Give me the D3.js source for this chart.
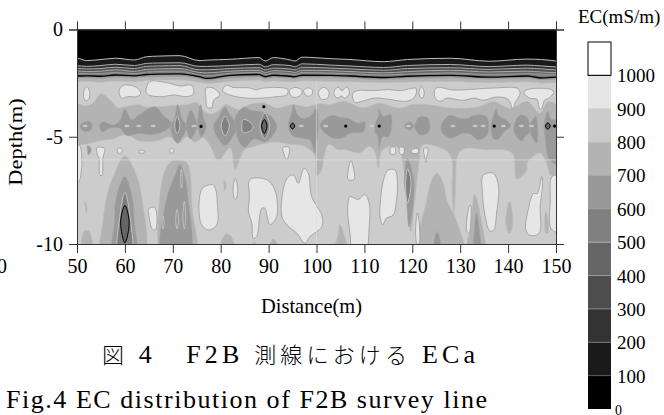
<!DOCTYPE html>
<html>
<head>
<meta charset="utf-8">
<script src="https://cdn.jsdelivr.net/npm/d3@7"></script>
<style>
html, body { margin: 0; padding: 0; background: #fff; }
text { font-family: "Liberation Serif", serif; fill: #000; }
</style>
</head>
<body>
<div id="chart_area"></div>
<script>
var distTicks = [50, 60, 70, 80, 90, 100, 110, 120, 130, 140, 150];
var depthTicks = [0, -5, -10];
var levels = [0, 100, 200, 300, 400, 500, 600, 700, 800, 900, 1000];
var levelColors = ["#000000", "#1a1a1a", "#333333", "#4d4d4d", "#666666", "#808080", "#999999", "#b3b3b3", "#cccccc", "#e6e6e6", "#ffffff"];
var levelLines = ["#555555", "#777777", "#888888", "#999999", "#aaaaaa", "#999999", "#aaaaaa", "#c0c0c0", "#d0d0d0", "#777777"];

// shallow layers: depth of each EC level along the line
var layerDist = [49, 50, 52, 55, 58, 62, 64.5, 67, 71.5, 75.5, 77, 82, 88, 89.3, 91, 94.5, 95.5, 97, 103, 107, 114, 119, 128, 136, 144, 147, 151];
var layer100 = [-1.34, -1.34, -1.45, -1.4, -1.34, -1.42, -1.27, -1.24, -1.22, -1.45, -1.43, -1.39, -1.31, -1.47, -1.31, -1.42, -1.47, -1.29, -1.36, -1.4, -1.5, -1.4, -1.34, -1.48, -1.38, -1.4, -1.5];
var layer200 = [-1.69, -1.69, -1.72, -1.68, -1.62, -1.68, -1.58, -1.56, -1.55, -1.72, -1.72, -1.68, -1.62, -1.74, -1.64, -1.68, -1.74, -1.6, -1.66, -1.7, -1.77, -1.68, -1.63, -1.73, -1.66, -1.7, -1.76];
var layer300 = [-1.81, -1.81, -1.84, -1.82, -1.76, -1.82, -1.72, -1.7, -1.68, -1.88, -1.88, -1.82, -1.78, -1.88, -1.8, -1.84, -1.88, -1.76, -1.8, -1.84, -1.9, -1.82, -1.78, -1.86, -1.8, -1.84, -1.9];
var layer400 = [-1.93, -1.93, -1.96, -1.94, -1.88, -1.95, -1.86, -1.84, -1.82, -2, -2.02, -1.94, -1.9, -2, -1.92, -1.96, -2, -1.9, -1.92, -1.96, -2.02, -1.96, -1.9, -1.98, -1.94, -1.98, -2.02];
var layer500 = [-2.04, -2.04, -2.06, -2.05, -2, -2.06, -1.98, -1.96, -1.94, -2.12, -2.16, -2.04, -2, -2.1, -2.03, -2.06, -2.1, -2.01, -2.03, -2.06, -2.12, -2.08, -2.02, -2.1, -2.06, -2.08, -2.12];
var layer600 = [-2.17, -2.17, -2.16, -2.18, -2.12, -2.16, -2.1, -2.08, -2.07, -2.2, -2.28, -2.14, -2.1, -2.2, -2.13, -2.18, -2.2, -2.13, -2.14, -2.17, -2.24, -2.18, -2.14, -2.22, -2.17, -2.26, -2.2];
var layer700 = [-2.28, -2.28, -2.27, -2.28, -2.24, -2.26, -2.22, -2.2, -2.2, -2.3, -2.38, -2.26, -2.22, -2.3, -2.25, -2.28, -2.3, -2.25, -2.25, -2.28, -2.34, -2.3, -2.26, -2.32, -2.28, -2.36, -2.32];
var layer800 = [-2.45, -2.45, -2.42, -2.46, -2.4, -2.44, -2.38, -2.36, -2.36, -2.46, -2.52, -2.42, -2.38, -2.44, -2.4, -2.44, -2.44, -2.4, -2.42, -2.44, -2.48, -2.45, -2.42, -2.48, -2.44, -2.5, -2.46];

// deeper areas: [distance, depth] outlines
var band700 = [
  [[49, -3.4], [50, -3.45], [52, -3.55], [53.5, -3.4], [55, -3], [57, -3.3], [58.5, -3.65], [60, -3.6], [63, -3.5], [64, -3.6], [66.6, -3.6], [70, -3.55], [73, -3.5], [75, -3.4], [76, -3.7], [78, -3.95], [80, -3.7], [81, -3.5], [84, -3.75], [86, -3.5], [89, -3.42], [91.7, -3.67], [95, -3.5], [98, -3.6], [100.7, -3.45], [103, -3.5], [105.6, -3.35], [109.8, -3.65], [113, -3.44], [117.4, -3.67], [120, -3.5], [123, -3.5], [126, -3.6], [129, -3.67], [134, -3.6], [136.9, -3.36], [140.4, -3.67], [144, -3.36], [146.6, -3.9], [148.4, -3.36], [151, -3.7],
   [151, -6.6], [149, -6.8], [148, -6.2], [147, -5.8], [146.6, -5.75], [144, -6.2], [143.9, -6.55], [142.6, -6.9], [141.7, -6.95], [141, -5.8], [139, -5.6], [135.5, -5.6], [131, -5.55], [129.6, -5.8], [129, -7.5], [128.7, -8.6], [128.3, -7.5], [127.9, -5.85], [124.4, -5.4], [122, -5.4], [121.5, -6], [120.5, -8], [119.7, -9.4], [119, -8], [118, -6.2], [117, -5.5], [114.6, -5.5], [113.5, -5.7], [112.9, -6.47], [112.2, -5.7], [111, -5.45], [109, -5.75], [106, -5.6], [104.5, -5.6], [102.5, -5.35], [101.5, -6], [101, -6.6], [100, -6.8], [99.7, -5.9], [98.6, -5.6], [96.9, -5.4], [94.5, -5.35], [92, -5.25], [89.2, -5.3], [87, -5.45], [85, -5.6], [83, -6.5], [82, -5.5], [79.5, -6.1], [78, -5.5], [76.4, -5.05], [74.6, -5.25], [73, -5], [71.1, -5.3], [69.4, -5], [66.6, -5.2], [63, -5.2], [60.4, -4.9], [57.5, -5.1], [55.5, -5.15], [52.7, -5.3], [50, -5.4], [49, -5.4]],
  [[60, -5.9], [62.5, -6.85], [63.5, -7.8], [63.8, -10.5], [55.1, -10.5], [55.4, -9], [56.2, -7.8], [57.6, -6.85]],
  [[70.8, -6.08], [72.9, -6.2], [73.6, -6.7], [74, -8.25], [74.6, -10.5], [67.8, -10.5], [67.3, -7.8], [68.4, -6.55], [69.4, -6.2]],
  [[79.8, -10.5], [81, -9.55], [82, -9.6], [83, -10.5]],
  [[51.2, -10.5], [51.5, -9.4], [52.5, -9.4], [53.2, -10.5]],
  [[86.5, -10.5], [87, -9.9], [88, -10.5]],
  [[89.8, -10.5], [91, -9.75], [92.5, -10.5]],
  [[51.7, -8], [52.1, -8.3], [51.9, -8.6]],
  [[80.7, -7], [81.2, -7.25], [80.8, -7.5]],
  [[103.5, -10.5], [104.5, -9.6], [104.9, -9.1], [105.8, -9.6], [106.5, -10.5]],
  [[125.2, -6.7], [126.5, -7.2], [127.2, -7.95], [129.3, -8.95], [130.6, -10.5], [121.6, -10.5], [123, -7.95], [124.4, -6.85]],
  [[133, -7.7], [134.5, -9], [135, -10.5], [131.5, -10.5], [132.3, -9]],
  [[140.3, -8], [141, -9], [140.3, -9.5], [139.5, -9]],
  [[148, -8.5], [148.3, -9.5], [147.9, -9.5], [147.8, -8.5]]
];
var band600 = [
  [[50.6, -4.5], [51.5, -4.3], [52.8, -4.3], [53.2, -4.5], [52.8, -4.7], [51.5, -4.75]],
  [[54.7, -4.45], [55.5, -4.3], [57.6, -4.45], [59, -4.22], [60, -3.7], [61.4, -4.22], [62.8, -4], [66.3, -3.6], [68, -4], [69.8, -4.4], [68, -4.76], [65.9, -4.9], [62.8, -4.85], [60.4, -4.95], [59, -4.6], [56.9, -4.6], [55.2, -4.76]],
  [[71, -3.5], [72, -4.2], [73, -4.5], [72, -5], [71, -5.3], [70, -5], [69.6, -4.5], [70.3, -4.2]],
  [[73.7, -3.75], [75, -4.5], [73.7, -5.1], [72.8, -4.5]],
  [[75.8, -3.5], [76.5, -4.2], [77, -4.5], [76, -5], [75.2, -4.5]],
  [[80.9, -3.6], [82, -4], [83.5, -4.5], [82.5, -5], [81, -5.4], [79.5, -5.1], [78.5, -4.5], [79.5, -4.1]],
  [[83, -4.1], [85, -3.6], [86, -3.75], [88.5, -3.83], [90.6, -4.06], [91.7, -4.53], [91, -4.9], [89.2, -5.25], [87, -5.1], [85, -5.5], [83.5, -5.05], [83.2, -4.5]],
  [[94.1, -4.45], [94.8, -3.9], [95.2, -3.5], [95.9, -3.9], [96.9, -4.14], [98.6, -4.06], [100, -3.68], [100.4, -4.5], [100, -5.3], [99.7, -5.77], [98.6, -5.15], [96.9, -5.07], [94.8, -4.92]],
  [[100.7, -4.45], [103.2, -4], [105, -4.1], [106.6, -4.14], [108.7, -4.37], [110.1, -4.3], [109.8, -4.76], [107, -4.84], [105.3, -5.07], [102.8, -5]],
  [[112.2, -4.45], [113, -3.95], [113, -3.7], [114, -4.05], [115.5, -3.95], [115.7, -4.5], [115, -5], [113.8, -5], [113, -5.6], [112.8, -5], [112.2, -4.8]],
  [[118.3, -4.5], [119.5, -4.3], [120.3, -4.5], [119.5, -4.7]],
  [[120.5, -4.45], [121.6, -4.06], [123.3, -4.14], [123.5, -4.76], [121.6, -4.92], [120.5, -4.6]],
  [[126.1, -4.4], [127.9, -4], [130, -4.14], [131.7, -4.14], [132.7, -4], [135.5, -4.06], [135.7, -4.9], [133.8, -5.15], [132.4, -4.92], [130.7, -4.84], [127.9, -5.07], [126.1, -4.76]],
  [[136.4, -4.5], [137, -4], [137.5, -3.7], [138, -4], [140, -4.3], [140.5, -4.5], [139, -4.8], [138, -5.1], [137, -5.1]],
  [[141.2, -4.5], [142.5, -4], [144, -4.1], [144.5, -4.8], [143.5, -5], [142.8, -5.2], [141.5, -4.9]],
  [[144.7, -4.4], [145.8, -4.05], [146.2, -4.6], [146, -5.3], [144.8, -4.9]],
  [[147.5, -4.5], [148.3, -3.8], [149, -4.2], [151, -4.2], [151, -6.4], [150, -6.3], [148.4, -6], [147.8, -5.1]],
  [[52.2, -5.4], [53, -5.6], [52.4, -5.85]],
  [[60, -6.85], [61.5, -7.8], [62, -9], [62.2, -10.5], [57.6, -10.5], [57.8, -9], [58.2, -7.8]],
  [[71.5, -6.3], [72.5, -6.85], [73.2, -7.9], [73.4, -10.5], [67.8, -10.5], [68.7, -7.9], [70.1, -7]],
  [[119, -6], [120.3, -7], [120, -8.5], [119.3, -9.2], [118.8, -8], [118.3, -7]],
  [[125.2, -9.4], [126, -10.5], [124.5, -10.5]],
  [[133.4, -8.55], [134.1, -9.5], [134.2, -10.5], [132.9, -10.5], [132.9, -9.5]]
];
var band500 = [
  [[70.9, -4.05], [71.5, -4.5], [70.9, -4.85], [70.4, -4.5]],
  [[80.9, -4.05], [81.8, -4.5], [80.9, -4.95], [80.1, -4.5]],
  [[84.7, -4.2], [86, -4.3], [86.8, -4.55], [86, -4.75], [84.7, -4.8], [84.4, -4.5]],
  [[89.2, -3.9], [90.2, -4.5], [89.2, -5.1], [88.2, -4.5]],
  [[60, -7.6], [61.1, -8.8], [61.3, -10.5], [58.7, -10.5], [58.9, -8.8]],
  [[119, -6.5], [119.7, -7], [119.4, -7.8], [119, -8.1], [118.6, -7.3]]
];
var band400 = [
  [[60, -8.2], [60.9, -9], [60, -9.95], [59.1, -9]],
  [[89.1, -4.2], [89.65, -4.5], [89.1, -4.85], [88.55, -4.5]],
  [[95, -4.36], [95.45, -4.5], [95, -4.64], [94.55, -4.5]],
  [[148.3, -4.35], [148.8, -4.5], [148.3, -4.65], [147.8, -4.5]]
];
// thin pale rings inside the column near 72 m
var paleRings = [
  [[71.8, -6.5], [72, -7], [71.8, -7.4], [71.6, -7]],
  [[72.4, -8], [72.7, -8.8], [72.4, -9.3], [72.1, -8.8]],
  [[70.9, -8.4], [71.2, -8.9], [70.9, -9.3], [70.6, -8.9]],
  [[68, -8.7], [68.2, -9], [68, -9.3], [67.8, -9]]
];
var band900 = [
  [[52, -2.65], [52.7, -3], [52.2, -3.3], [51.6, -3.3], [51.4, -2.9]],
  [[58.8, -2.85], [59.7, -2.6], [62.5, -2.7], [63.3, -2.98], [62.5, -3.13], [60.7, -3.13], [59.3, -3.2]],
  [[64.4, -2.9], [65.2, -2.43], [68.7, -2.48], [71.5, -2.63], [74, -2.6], [74.3, -3], [72.9, -3.13], [70.1, -3.05], [68, -3.13], [64.9, -3.05]],
  [[76.9, -2.75], [78, -2.7], [79.2, -2.85], [79.8, -3.05], [78.5, -3.3], [78.2, -3.63], [77.2, -3.63], [76.9, -3.15]],
  [[80.4, -2.85], [81.2, -2.6], [82.6, -2.7], [86, -2.72], [87.5, -2.82], [88.2, -2.76], [91.7, -2.7], [94, -2.8], [93.8, -3.05], [91.7, -3.13], [88.2, -3.2], [85.4, -3.2], [81.9, -3.05]],
  [[94.3, -2.85], [95.5, -2.7], [97, -2.85], [96.5, -3.1], [95, -3.15]],
  [[97.3, -2.85], [98.2, -2.72], [99.1, -2.8], [99, -3.05], [98, -3.1]],
  [[100.4, -2.9], [101.5, -2.7], [102.6, -2.9], [102.3, -3.2], [101, -3.25]],
  [[103.6, -2.95], [104.5, -2.68], [105.3, -2.85], [106.3, -2.68], [106.9, -2.95], [106, -3.2], [105.2, -3.1], [104.3, -3.2]],
  [[107.5, -3], [108.5, -2.85], [112, -2.85], [115, -2.8], [117.5, -2.85], [120.8, -2.75], [120.6, -3.1], [119.5, -3.3], [118, -3.35], [115, -3.25], [112, -3.2], [109.5, -3.35], [108, -3.4]],
  [[121.95, -2.65], [122.5, -3], [122, -3.2], [121.4, -3]],
  [[124.7, -2.8], [125.3, -2.7], [128.5, -2.82], [133, -2.78], [137.5, -2.72], [142, -2.75], [142.5, -3], [141.5, -3.4], [141, -3.7], [140, -3.25], [137.5, -3.15], [134.8, -3.3], [133, -3.2], [130.5, -3.3], [128.9, -3.25], [127.2, -3.2], [125.8, -3.35], [124.8, -3.2]],
  [[143.3, -2.95], [144, -2.8], [149, -2.8], [149.5, -2.95], [148.5, -3.2], [147.6, -3.3], [147, -3.7], [146.6, -3.7], [146, -3.25], [144.5, -3.2]],
  [[49, -5.4], [50.5, -5.4], [51, -6], [50.9, -6.6], [50.3, -7.1], [49, -7]],
  [[54.2, -5.5], [55.8, -5.55], [55.4, -6], [55.2, -6.8], [54.8, -6.8], [54.6, -6], [54.2, -5.8]],
  [[58.5, -5.55], [59.3, -5.55], [59.3, -5.75], [58.5, -5.75]],
  [[63, -5.65], [64, -5.65], [64, -5.75], [63, -5.75]],
  [[69.5, -5.55], [70.1, -5.55], [70.1, -5.75], [69.5, -5.75]],
  [[65, -8.35], [66.2, -8.3], [66.7, -8.9], [66.3, -9.35], [65.7, -9.3], [65.1, -8.8]],
  [[75.5, -8], [76.2, -7.4], [77.5, -7.25], [78.5, -7.25], [79, -7.5], [79.3, -8.1], [79.2, -9.1], [77.5, -9.35], [76, -9.1]],
  [[83, -6.95], [83.5, -7.3], [83.2, -7.9], [82.9, -7.9], [82.6, -7.4]],
  [[86.1, -7], [89.6, -7], [91.3, -7.48], [91.7, -8.72], [90.3, -9.1], [89.6, -8.6], [89.25, -8.34], [88.55, -8.34], [87.5, -9.66], [86.8, -9.73], [86.5, -9.03], [85.8, -8.5], [86, -7.8]],
  [[92.7, -8.65], [93.8, -6.95], [95.2, -6.78], [96.2, -7.17], [97.4, -6.47], [98.3, -6.7], [99, -7.8], [101.1, -8.65], [101.1, -9.2], [98.6, -9.66], [97.6, -9.97], [95.9, -9.5], [93.8, -9.1]],
  [[93, -5.5], [94.3, -5.5], [94, -6], [93.7, -6.05], [93.2, -5.8]],
  [[107.2, -6.1], [108, -6.9], [107.8, -7], [106.6, -7], [106.6, -6.6]],
  [[106.5, -8.4], [107, -7.8], [108.7, -7.92], [110.1, -7.7], [111, -8.1], [111, -9.2], [110.1, -10.5], [107.7, -10.5], [107, -9.5]],
  [[114, -7], [115, -6.55], [116.4, -6.55], [116.9, -7.17], [116.7, -7.95], [116, -8.65], [114.6, -8.8], [113.8, -9.1], [113.25, -8.7], [113.4, -7.87]],
  [[121.1, -8.55], [121.5, -9.2], [121.4, -10], [121, -10], [120.7, -9.3]],
  [[131.3, -9.3], [132, -8.2], [132.2, -8.2], [132.2, -9], [131.9, -9.5], [131.7, -9.5]],
  [[134.8, -6.8], [136.9, -6.7], [138, -7.3], [137.6, -8.55], [137, -9.35], [136.2, -9.4], [135.2, -8.7], [134.6, -7.5]],
  [[147, -6.85], [147.2, -7.2], [146.7, -8.25], [146.5, -9.5], [144.6, -9.6], [143.7, -9.35], [144.2, -8.4], [145.3, -7.65], [146.1, -7.65]],
  [[151, -6.85], [149.2, -6.85], [148.8, -8], [149, -9.3], [151, -9.45]],
  [[115.5, -5.5], [116.4, -5.5], [116.4, -5.8], [115.5, -5.8]],
  [[117.4, -5.5], [118.2, -5.5], [118.2, -5.8], [117.4, -5.8]],
  [[119.9, -5.6], [121.2, -5.55], [121.2, -5.75], [119.9, -5.75]],
  [[122.4, -5.55], [123.3, -5.55], [123, -5.95], [122.9, -6.2], [122.6, -5.95]]
];
// small pale dashes and black specks along the -4.5 m line
var paleSpots = [[51.7, -4.5], [60.4, -4.5], [62.9, -4.5], [65.9, -4.5], [74.4, -4.5], [96.8, -4.5], [101.9, -4.5], [111.5, -4.5], [119.2, -4.5], [128.5, -4.5], [133.1, -4.5], [134.8, -4.5], [139, -4.5], [142.8, -4.5], [144.9, -4.5]];
var blackSpots = [[75.9, -4.52], [89, -3.6], [106.1, -4.5], [113.1, -4.5], [137.1, -4.5], [149.7, -4.5]];

var plot = { left: 77, right: 556, top: 29.5, bottom: 244 };
var x = d3.scaleLinear().domain([50, 150]).range([plot.left, plot.right]);
var y = d3.scaleLinear().domain([0, -10]).range([plot.top, plot.bottom]);
var legendY = d3.scaleLinear().domain([0, 1100]).range([409, 42]);

var svg = d3.select("#chart_area")
    .append("svg")
    .attr("width", 664)
    .attr("height", 415);

svg.append("defs").append("clipPath")
    .attr("id", "plotClip")
    .append("rect")
    .attr("x", plot.left)
    .attr("y", plot.top)
    .attr("width", plot.right - plot.left)
    .attr("height", plot.bottom - plot.top);

var section = svg.append("g").attr("clip-path", "url(#plotClip)");

// base colour below the layers is the 800-900 band
section.append("rect")
    .attr("x", plot.left)
    .attr("y", plot.top)
    .attr("width", plot.right - plot.left)
    .attr("height", plot.bottom - plot.top)
    .attr("fill", levelColors[8]);

var blob = d3.line()
    .x(function (d) { return x(d[0]); })
    .y(function (d) { return y(d[1]); })
    .curve(d3.curveCatmullRomClosed.alpha(0.5));

function drawBand(polys, fill, stroke, width) {
    section.append("g")
        .selectAll("path")
        .data(polys)
        .enter().append("path")
        .attr("d", blob)
        .attr("fill", fill)
        .attr("stroke", stroke)
        .attr("stroke-width", width);
}

drawBand(band700, levelColors[7], "#bdbdbd", 0.6);
drawBand(band600, levelColors[6], "#a6a6a6", 0.6);
drawBand(band500, levelColors[5], "#cfcfcf", 0.8);
drawBand(band400, levelColors[4], "#000", 1);
drawBand(paleRings, "none", "#cfcfcf", 0.7);
drawBand(band900, levelColors[9], "#999", 0.8);

section.selectAll(".pale")
    .data(paleSpots)
    .enter().append("ellipse")
    .attr("class", "pale")
    .attr("cx", function (d) { return x(d[0]); })
    .attr("cy", function (d) { return y(d[1]); })
    .attr("rx", 2.5)
    .attr("ry", 1.3)
    .attr("fill", "#c8c8c8");

section.selectAll(".speck")
    .data(blackSpots)
    .enter().append("ellipse")
    .attr("class", "speck")
    .attr("cx", function (d) { return x(d[0]); })
    .attr("cy", function (d) { return y(d[1]); })
    .attr("rx", 1.6)
    .attr("ry", 1.6)
    .attr("fill", "#000");

// faint processing seams in the section
section.append("line")
    .attr("x1", x(50)).attr("x2", x(150))
    .attr("y1", y(-6.08)).attr("y2", y(-6.08))
    .attr("stroke", "#dcdcdc").attr("stroke-width", 0.8);
section.append("line")
    .attr("x1", x(100)).attr("x2", x(100))
    .attr("y1", y(-2.4)).attr("y2", y(-10))
    .attr("stroke", "#dcdcdc").attr("stroke-width", 0.6);

// layered top of the section, deepest first
var layers = [
    { depths: layer800, fill: levelColors[7], line: "#c0c0c0", w: 0.5 },
    { depths: layer700, fill: levelColors[6], line: "#a8a8a8", w: 0.5 },
    { depths: layer600, fill: levelColors[5], line: "#000", w: 1.4 },
    { depths: layer500, fill: levelColors[4], line: "#999", w: 1 },
    { depths: layer400, fill: levelColors[3], line: "#aaa", w: 1 },
    { depths: layer300, fill: levelColors[2], line: "#aaa", w: 1 },
    { depths: layer200, fill: levelColors[1], line: "#b0b0b0", w: 1 },
    { depths: layer100, fill: levelColors[0], line: "#bdbdbd", w: 1 }
];
var layerArea = d3.area()
    .x(function (d) { return x(d[0]); })
    .y0(y(0))
    .y1(function (d) { return y(d[1]); })
    .curve(d3.curveMonotoneX);
var layerLine = d3.line()
    .x(function (d) { return x(d[0]); })
    .y(function (d) { return y(d[1]); })
    .curve(d3.curveMonotoneX);

layers.forEach(function (l) {
    var pts = layerDist.map(function (d, i) { return [d, l.depths[i]]; });
    section.append("path").attr("d", layerArea(pts)).attr("fill", l.fill);
    section.append("path").attr("d", layerLine(pts))
        .attr("fill", "none").attr("stroke", l.line).attr("stroke-width", l.w);
});

// frame and ticks
svg.append("g")
    .attr("transform", "translate(0," + plot.bottom + ")")
    .call(d3.axisBottom(x).tickValues(distTicks).tickSize(9).tickPadding(6).tickFormat(String))
    .call(styleAxis);
svg.append("g")
    .attr("transform", "translate(0," + plot.top + ")")
    .call(d3.axisTop(x).tickValues(distTicks).tickSize(8).tickFormat(""))
    .call(styleAxis);
svg.append("g")
    .attr("transform", "translate(" + plot.left + ",0)")
    .call(d3.axisLeft(y).tickValues(depthTicks).tickSize(8).tickPadding(6).tickFormat(String))
    .call(styleAxis);
svg.append("g")
    .attr("transform", "translate(" + plot.right + ",0)")
    .call(d3.axisRight(y).tickValues(depthTicks).tickSize(8).tickFormat(""))
    .call(styleAxis);

function styleAxis(g) {
    g.select(".domain").attr("stroke", "#333").attr("stroke-width", 1);
    g.selectAll(".tick line").attr("stroke", "#333").attr("stroke-width", 1);
    g.selectAll(".tick text")
        .style("font-family", "'Liberation Serif', serif")
        .style("font-size", "20px")
        .attr("fill", "#000");
}

// axis titles and captions
svg.append("text")
    .attr("transform", "translate(22,142) rotate(-90) scale(1.25,1)")
    .attr("text-anchor", "middle")
    .style("font-size", "18px")
    .text("Depth(m)");

svg.append("text")
    .attr("x", 261)
    .attr("y", 313)
    .attr("textLength", 101)
    .attr("lengthAdjust", "spacingAndGlyphs")
    .style("font-size", "21px")
    .text("Distance(m)");

var caption = svg.append("text")
    .attr("x", 102)
    .attr("y", 363)
    .attr("textLength", 373)
    .style("font-family", "'Liberation Serif','Noto Sans CJK JP',serif")
    .style("font-size", "26px");
caption.append("tspan").style("font-size", "22px").style("font-weight", 300).text("図");
caption.append("tspan").text(" 4　F2B ");
caption.append("tspan").style("font-size", "22px").style("font-weight", 300).text("測線における");
caption.append("tspan").text(" ECa");

svg.append("text")
    .attr("x", 6)
    .attr("y", 408)
    .attr("textLength", 481)
    .style("font-size", "26px")
    .text("Fig.4 EC distribution of F2B survey line");

svg.append("text")
    .attr("x", -3)
    .attr("y", 273)
    .style("font-size", "20px")
    .text("0");

// colour bar
var bar = svg.append("g");
bar.selectAll("rect")
    .data(levels)
    .enter().append("rect")
    .attr("x", 588)
    .attr("width", 23)
    .attr("y", function (d) { return legendY(d + 100); })
    .attr("height", function (d) { return legendY(d) - legendY(d + 100); })
    .attr("fill", function (d, i) { return levelColors[i]; });

bar.selectAll("line")
    .data(levels.slice(1))
    .enter().append("line")
    .attr("x1", 588)
    .attr("x2", 611)
    .attr("y1", function (d) { return legendY(d); })
    .attr("y2", function (d) { return legendY(d); })
    .attr("stroke", function (d) { return levelLines[levels.indexOf(d) - 1]; })
    .attr("stroke-width", 1);

bar.append("rect")
    .attr("x", 588)
    .attr("y", legendY(1100))
    .attr("width", 23)
    .attr("height", legendY(1000) - legendY(1100))
    .attr("fill", "none")
    .attr("stroke", "#000");

bar.selectAll("text")
    .data(levels.slice().reverse())
    .enter().append("text")
    .attr("x", function (d) { return d === 0 ? 615 : 617; })
    .attr("y", function (d) { return d === 0 ? 414.5 : legendY(d) + 7; })
    .style("font-size", function (d) { return d === 0 ? "14px" : "19px"; })
    .text(function (d) { return d; });

svg.append("text")
    .attr("x", 578)
    .attr("y", 23)
    .style("font-size", "19px")
    .text("EC(mS/m)");
</script>
</body>
</html>
